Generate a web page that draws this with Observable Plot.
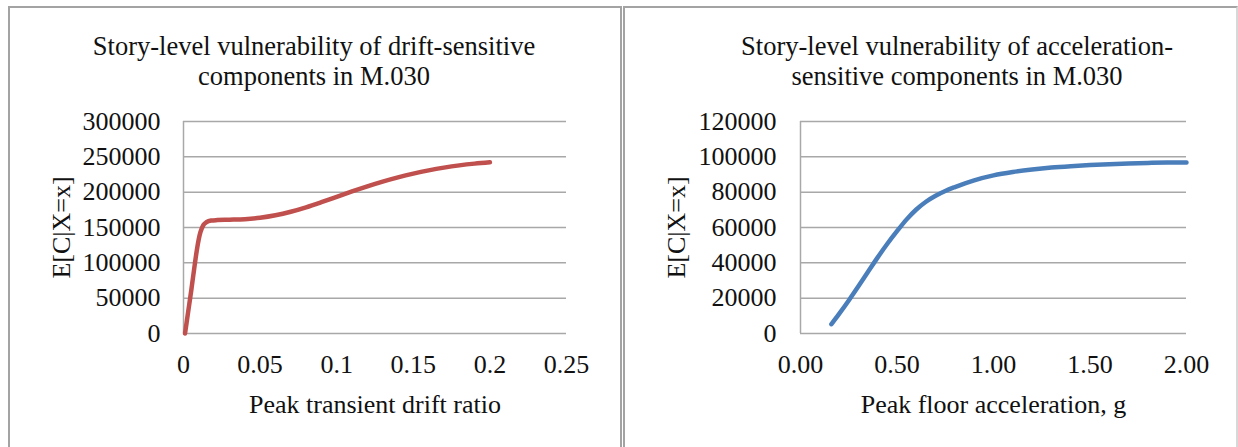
<!DOCTYPE html>
<html>
<head>
<meta charset="utf-8">
<script src="https://cdn.jsdelivr.net/npm/d3@7"></script>
<script src="https://cdn.jsdelivr.net/npm/@observablehq/plot@0.6"></script>
<style>
  html, body { margin: 0; padding: 0; background: #fff; overflow: hidden; }
  #page { position: relative; width: 1238px; height: 447px; overflow: hidden; background: #fff; }
  .frame { position: absolute; top: 6px; height: 470px; border: 2px solid #a3a3a3; border-bottom: none; box-sizing: border-box; }
  .title { position: absolute; top: 31px; font-family: "Liberation Serif", "Times New Roman", serif; font-size: 26.5px; line-height: 30px; color: #111; text-align: center; white-space: nowrap; transform: translateX(-50%); }
  .chart { position: absolute; top: 0; }
</style>
</head>
<body>
<div id="page">
  <div class="frame" style="left:8px; width:614px;"></div>
  <div class="frame" style="left:623px; width:615px; border-right-color:#d8d8d8;"></div>
  <div class="title" style="left:314px;">Story-level vulnerability of drift-sensitive<br>components in M.030</div>
  <div class="title" style="left:957px;">Story-level vulnerability of acceleration-<br>sensitive components in M.030</div>
  <div class="chart" id="left" style="left:0px;"></div>
  <div class="chart" id="right" style="left:622px;"></div>
</div>
<script>
// ---- Left chart: drift-sensitive components ----
const driftX = [0.001, 0.003, 0.005, 0.007, 0.009, 0.011, 0.013, 0.015, 0.018, 0.022, 0.03, 0.04, 0.05, 0.06, 0.07, 0.08, 0.09, 0.1, 0.11, 0.12, 0.13, 0.14, 0.15, 0.16, 0.17, 0.18, 0.19, 0.2];
const driftY = [0, 30000, 60000, 92000, 122000, 143000, 153500, 157500, 159800, 160500, 161000, 161800, 163800, 167300, 172300, 178600, 185800, 193400, 201000, 208200, 214900, 220900, 226200, 230800, 234700, 237900, 240400, 242300];
const driftXTicks = [0, 0.05, 0.1, 0.15, 0.2, 0.25];
const driftYTicks = [0, 50000, 100000, 150000, 200000, 250000, 300000];

// ---- Right chart: acceleration-sensitive components ----
const accX = [0.16, 0.2, 0.25, 0.3, 0.35, 0.4, 0.45, 0.5, 0.55, 0.6, 0.65, 0.7, 0.75, 0.8, 0.9, 1.0, 1.1, 1.2, 1.3, 1.4, 1.5, 1.6, 1.7, 1.8, 1.9, 2.0];
const accY = [5300, 11100, 18700, 26700, 34950, 43100, 50800, 57900, 64600, 70200, 74600, 78000, 80700, 82900, 86700, 89500, 91400, 92800, 93900, 94700, 95350, 95850, 96250, 96550, 96750, 96850];
const accXTicks = [0, 0.5, 1, 1.5, 2];
const accYTicks = [0, 20000, 40000, 60000, 80000, 100000, 120000];

const yLabel = "E[C|X=x]";
const driftXLabel = "Peak transient drift ratio";
const accXLabel = "Peak floor acceleration, g";

const gridColor = "#a8a8a8";
const textColor = "#111";
const font = '"Liberation Serif", "Times New Roman", serif';

function makeChart({xs, ys, xDomain, yDomain, xTicks, yTicks, xFormat, color, width, mLeft, mRight, yTitleDx, xTitle, yPad}) {
  const data = xs.map((x, i) => ({x, y: ys[i]}));
  return Plot.plot({
    width,
    height: 447,
    marginLeft: mLeft,
    marginRight: mRight,
    marginTop: 121,
    marginBottom: 114,
    style: {fontFamily: font, fontSize: "26px", color: textColor, background: "transparent", overflow: "visible"},
    x: {domain: xDomain, ticks: xTicks, tickFormat: xFormat, tickSize: 0, tickPadding: 21.5, label: null},
    y: {domain: yDomain, ticks: yTicks, tickFormat: d3.format("d"), tickSize: 0, tickPadding: yPad, label: null},
    marks: [
      Plot.gridY(yTicks, {stroke: gridColor, strokeOpacity: 1, strokeWidth: 1.5}),
      Plot.ruleX([xDomain[0]], {stroke: gridColor, strokeWidth: 1.5}),
      Plot.line(data, {x: "x", y: "y", stroke: color, strokeWidth: 4.5, curve: "monotone-x", strokeLinecap: "round", strokeLinejoin: "round"}),
      Plot.text([yLabel], {text: d => d, frameAnchor: "left", dx: yTitleDx, rotate: -90, textAnchor: "middle", lineAnchor: "middle", fill: textColor, fontSize: 26}),
      Plot.text([xTitle], {text: d => d, frameAnchor: "bottom", dy: 70.7, textAnchor: "middle", lineAnchor: "middle", fill: textColor, fontSize: 26})
    ]
  });
}

document.getElementById("left").append(makeChart({
  xs: driftX, ys: driftY, xDomain: [0, 0.25], yDomain: [0, 300000],
  xTicks: driftXTicks, yTicks: driftYTicks, xFormat: d => String(d),
  color: "#C0504D", width: 622, mLeft: 183, mRight: 56, yTitleDx: -122, xTitle: driftXLabel, yPad: 23
}));

document.getElementById("right").append(makeChart({
  xs: accX, ys: accY, xDomain: [0, 2], yDomain: [0, 120000],
  xTicks: accXTicks, yTicks: accYTicks, xFormat: d3.format(".2f"),
  color: "#4A7EBB", width: 616, mLeft: 178, mRight: 52, yTitleDx: -124, xTitle: accXLabel, yPad: 24
}));
</script>
</body>
</html>
